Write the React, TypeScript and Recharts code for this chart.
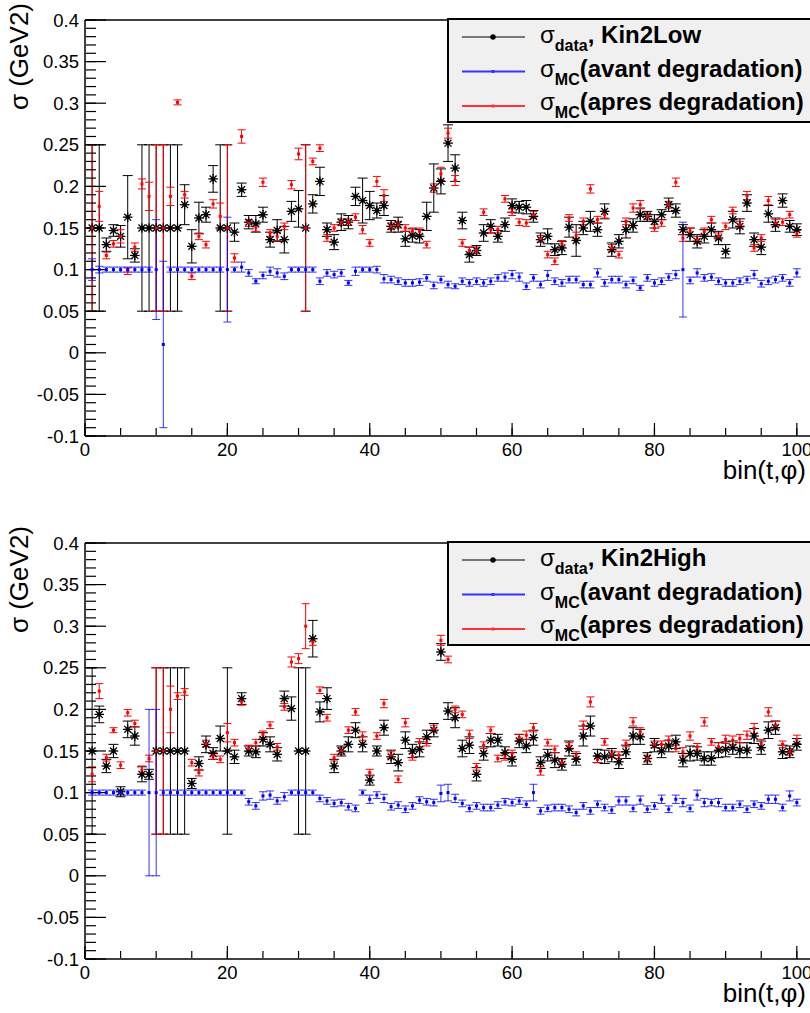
import React from "react";
import {
  ComposedChart,
  Scatter,
  ErrorBar,
  XAxis,
  YAxis,
  ReferenceLine,
} from "recharts";

// sigma per bin(t,phi), bins 1..100

const lowData = [
  0.15, 0.15, 0.13, 0.147, 0.14, 0.163, 0.117, 0.15, 0.15, 0.15,
  0.15, 0.15, 0.15, 0.178, 0.128, 0.162, 0.166, 0.209, 0.15, 0.15,
  0.145, 0.196, 0.157, 0.155, 0.166, 0.136, 0.147, 0.136, 0.17, 0.173,
  0.15, 0.179, 0.206, 0.148, 0.133, 0.157, 0.157, 0.188, 0.183, 0.177,
  0.171, 0.177, 0.152, 0.154, 0.137, 0.141, 0.14, 0.164, 0.198, 0.206,
  0.252, 0.222, 0.159, 0.118, 0.123, 0.144, 0.152, 0.14, 0.154, 0.177,
  0.175, 0.175, 0.164, 0.136, 0.14, 0.124, 0.126, 0.151, 0.135, 0.15,
  0.158, 0.148, 0.17, 0.124, 0.134, 0.148, 0.153, 0.166, 0.164, 0.158,
  0.166, 0.178, 0.171, 0.148, 0.142, 0.134, 0.14, 0.148, 0.138, 0.122,
  0.16, 0.152, 0.18, 0.136, 0.127, 0.167, 0.154, 0.183, 0.152, 0.148,
];
const lowDataErr = [
  0.1, 0.1, 0.008, 0.007, 0.013, 0.05, 0.008, 0.1, 0.1, 0.1,
  0.1, 0.1, 0.1, 0.024, 0.02, 0.019, 0.009, 0.016, 0.1, 0.1,
  0.011, 0.008, 0.008, 0.01, 0.009, 0.009, 0.013, 0.016, 0.012, 0.022,
  0.1, 0.011, 0.017, 0.008, 0.009, 0.01, 0.008, 0.011, 0.027, 0.017,
  0.009, 0.012, 0.007, 0.009, 0.009, 0.008, 0.008, 0.017, 0.029, 0.015,
  0.022, 0.016, 0.01, 0.009, 0.006, 0.01, 0.008, 0.007, 0.008, 0.008,
  0.007, 0.008, 0.007, 0.008, 0.009, 0.007, 0.008, 0.012, 0.019, 0.008,
  0.012, 0.008, 0.009, 0.008, 0.008, 0.01, 0.008, 0.008, 0.006, 0.008,
  0.006, 0.008, 0.008, 0.006, 0.008, 0.008, 0.008, 0.008, 0.008, 0.008,
  0.01, 0.009, 0.01, 0.008, 0.009, 0.01, 0.008, 0.008, 0.007, 0.007,
];
const lowBefore = [
  0.1, 0.1, 0.1, 0.1, 0.1, 0.1, 0.1, 0.1, 0.1, 0.1,
  0.01, 0.1, 0.1, 0.1, 0.1, 0.1, 0.1, 0.1, 0.1, 0.1,
  0.1, 0.103, 0.096, 0.086, 0.093, 0.098, 0.096, 0.092, 0.1, 0.1,
  0.1, 0.1, 0.086, 0.096, 0.094, 0.096, 0.084, 0.098, 0.1, 0.1,
  0.1, 0.089, 0.088, 0.086, 0.084, 0.084, 0.085, 0.09, 0.081, 0.088,
  0.082, 0.08, 0.086, 0.084, 0.086, 0.084, 0.086, 0.09, 0.091, 0.094,
  0.091, 0.08, 0.09, 0.082, 0.093, 0.086, 0.084, 0.088, 0.088, 0.082,
  0.082, 0.096, 0.084, 0.088, 0.088, 0.082, 0.087, 0.078, 0.09, 0.084,
  0.086, 0.091, 0.094, 0.1, 0.087, 0.096, 0.09, 0.091, 0.086, 0.084,
  0.084, 0.086, 0.088, 0.094, 0.083, 0.086, 0.088, 0.09, 0.084, 0.096,
];
const lowBeforeErr = [
  0.013, 0.004, 0.003, 0.003, 0.003, 0.003, 0.003, 0.003, 0.003, 0.06,
  0.1, 0.003, 0.003, 0.003, 0.003, 0.003, 0.003, 0.003, 0.003, 0.063,
  0.003, 0.006, 0.004, 0.003, 0.004, 0.005, 0.005, 0.004, 0.003, 0.003,
  0.003, 0.003, 0.004, 0.004, 0.004, 0.004, 0.003, 0.005, 0.003, 0.003,
  0.004, 0.005, 0.004, 0.004, 0.004, 0.004, 0.004, 0.004, 0.004, 0.004,
  0.004, 0.003, 0.004, 0.004, 0.004, 0.004, 0.004, 0.004, 0.005, 0.005,
  0.005, 0.004, 0.004, 0.004, 0.006, 0.004, 0.004, 0.004, 0.004, 0.004,
  0.004, 0.005, 0.004, 0.004, 0.004, 0.004, 0.004, 0.003, 0.004, 0.004,
  0.004, 0.004, 0.005, 0.057, 0.004, 0.005, 0.004, 0.004, 0.004, 0.004,
  0.004, 0.004, 0.004, 0.005, 0.004, 0.004, 0.004, 0.004, 0.004, 0.005,
];
const lowAfter = [
  0.15, 0.176, 0.117, 0.131, 0.14, 0.098, 0.127, 0.203, 0.188, 0.15,
  0.15, 0.188, 0.301, 0.19, 0.092, 0.14, 0.13, 0.179, 0.164, 0.15,
  0.114, 0.26, 0.156, 0.151, 0.205, 0.144, 0.14, 0.152, 0.202, 0.239,
  0.15, 0.23, 0.246, 0.138, 0.15, 0.157, 0.157, 0.163, 0.148, 0.132,
  0.206, 0.189, 0.152, 0.154, 0.15, 0.146, 0.146, 0.13, 0.198, 0.215,
  0.264, 0.207, 0.132, 0.123, 0.123, 0.169, 0.148, 0.148, 0.185, 0.169,
  0.157, 0.156, 0.166, 0.137, 0.118, 0.11, 0.131, 0.162, 0.141, 0.158,
  0.197, 0.16, 0.166, 0.126, 0.118, 0.158, 0.174, 0.178, 0.164, 0.15,
  0.156, 0.178, 0.205, 0.138, 0.146, 0.136, 0.146, 0.16, 0.14, 0.152,
  0.171, 0.154, 0.189, 0.126, 0.138, 0.183, 0.156, 0.157, 0.166, 0.143,
];
const lowAfterErr = [
  0.1, 0.018, 0.004, 0.004, 0.008, 0.004, 0.005, 0.006, 0.017, 0.1,
  0.1, 0.011, 0.003, 0.004, 0.004, 0.004, 0.004, 0.005, 0.016, 0.1,
  0.005, 0.008, 0.004, 0.005, 0.005, 0.004, 0.005, 0.004, 0.005, 0.007,
  0.1, 0.004, 0.004, 0.004, 0.004, 0.004, 0.004, 0.004, 0.005, 0.004,
  0.006, 0.007, 0.004, 0.004, 0.004, 0.004, 0.004, 0.004, 0.005, 0.008,
  0.006, 0.006, 0.004, 0.004, 0.004, 0.004, 0.004, 0.004, 0.004, 0.004,
  0.004, 0.004, 0.004, 0.004, 0.004, 0.004, 0.004, 0.004, 0.004, 0.004,
  0.005, 0.004, 0.004, 0.004, 0.004, 0.004, 0.005, 0.005, 0.004, 0.004,
  0.004, 0.004, 0.005, 0.004, 0.004, 0.004, 0.004, 0.004, 0.004, 0.004,
  0.004, 0.004, 0.005, 0.004, 0.004, 0.005, 0.004, 0.004, 0.004, 0.004,
];

const highData = [
  0.15, 0.194, 0.132, 0.15, 0.101, 0.176, 0.168, 0.122, 0.122, 0.15,
  0.15, 0.15, 0.15, 0.15, 0.111, 0.135, 0.158, 0.147, 0.165, 0.15,
  0.143, 0.213, 0.15, 0.149, 0.164, 0.158, 0.146, 0.213, 0.201, 0.15,
  0.15, 0.285, 0.197, 0.213, 0.132, 0.15, 0.158, 0.175, 0.158, 0.115,
  0.15, 0.178, 0.143, 0.136, 0.163, 0.15, 0.152, 0.167, 0.175, 0.269,
  0.198, 0.19, 0.153, 0.157, 0.122, 0.147, 0.163, 0.163, 0.148, 0.14,
  0.162, 0.156, 0.166, 0.136, 0.145, 0.139, 0.134, 0.153, 0.14, 0.168,
  0.18, 0.144, 0.143, 0.145, 0.137, 0.149, 0.168, 0.167, 0.141, 0.157,
  0.15, 0.156, 0.161, 0.139, 0.147, 0.147, 0.141, 0.141, 0.151, 0.152,
  0.154, 0.151, 0.151, 0.168, 0.154, 0.175, 0.178, 0.149, 0.149, 0.158,
];
const highDataErr = [
  0.1, 0.01, 0.008, 0.008, 0.006, 0.01, 0.011, 0.009, 0.006, 0.1,
  0.1, 0.1, 0.1, 0.1, 0.006, 0.008, 0.01, 0.007, 0.015, 0.1,
  0.008, 0.007, 0.006, 0.007, 0.008, 0.009, 0.008, 0.009, 0.014, 0.1,
  0.1, 0.022, 0.012, 0.013, 0.008, 0.006, 0.009, 0.009, 0.009, 0.006,
  0.006, 0.009, 0.008, 0.01, 0.01, 0.008, 0.009, 0.008, 0.008, 0.01,
  0.01, 0.012, 0.01, 0.01, 0.008, 0.008, 0.008, 0.007, 0.007, 0.008,
  0.008, 0.008, 0.009, 0.007, 0.007, 0.009, 0.007, 0.009, 0.007, 0.012,
  0.012, 0.008, 0.008, 0.008, 0.008, 0.008, 0.01, 0.009, 0.007, 0.008,
  0.008, 0.007, 0.008, 0.008, 0.009, 0.008, 0.008, 0.008, 0.009, 0.009,
  0.008, 0.009, 0.009, 0.009, 0.008, 0.01, 0.008, 0.008, 0.007, 0.007,
];
const highBefore = [
  0.1, 0.1, 0.1, 0.1, 0.1, 0.1, 0.1, 0.1, 0.1, 0.1,
  0.1, 0.1, 0.1, 0.1, 0.1, 0.1, 0.1, 0.1, 0.1, 0.1,
  0.1, 0.1, 0.089, 0.084, 0.096, 0.097, 0.09, 0.095, 0.1, 0.1,
  0.1, 0.1, 0.093, 0.09, 0.087, 0.088, 0.083, 0.081, 0.1, 0.092,
  0.097, 0.093, 0.083, 0.085, 0.08, 0.084, 0.091, 0.089, 0.088, 0.099,
  0.1, 0.093, 0.087, 0.081, 0.084, 0.082, 0.082, 0.085, 0.089, 0.088,
  0.09, 0.086, 0.1, 0.078, 0.081, 0.082, 0.082, 0.08, 0.076, 0.084,
  0.078, 0.086, 0.082, 0.079, 0.09, 0.09, 0.081, 0.091, 0.08, 0.084,
  0.092, 0.08, 0.092, 0.088, 0.081, 0.097, 0.088, 0.088, 0.088, 0.082,
  0.082, 0.086, 0.08, 0.086, 0.084, 0.092, 0.092, 0.082, 0.096, 0.088,
];
const highBeforeErr = [
  0.003, 0.003, 0.003, 0.003, 0.003, 0.003, 0.003, 0.003, 0.1, 0.1,
  0.003, 0.003, 0.003, 0.003, 0.003, 0.003, 0.003, 0.003, 0.003, 0.003,
  0.003, 0.003, 0.004, 0.004, 0.005, 0.005, 0.004, 0.005, 0.003, 0.003,
  0.003, 0.003, 0.004, 0.004, 0.004, 0.004, 0.004, 0.004, 0.003, 0.005,
  0.004, 0.005, 0.004, 0.004, 0.004, 0.004, 0.004, 0.004, 0.004, 0.01,
  0.01, 0.005, 0.004, 0.004, 0.004, 0.004, 0.004, 0.004, 0.004, 0.004,
  0.004, 0.004, 0.01, 0.004, 0.004, 0.004, 0.004, 0.004, 0.004, 0.004,
  0.004, 0.004, 0.004, 0.004, 0.005, 0.005, 0.004, 0.005, 0.004, 0.004,
  0.005, 0.004, 0.005, 0.005, 0.004, 0.006, 0.005, 0.004, 0.005, 0.004,
  0.004, 0.004, 0.004, 0.004, 0.004, 0.005, 0.005, 0.004, 0.006, 0.004,
];
const highAfter = [
  0.122, 0.222, 0.142, 0.175, 0.133, 0.196, 0.183, 0.127, 0.141, 0.15,
  0.15, 0.2, 0.216, 0.221, 0.136, 0.124, 0.159, 0.144, 0.14, 0.172,
  0.16, 0.209, 0.153, 0.16, 0.17, 0.181, 0.155, 0.203, 0.257, 0.261,
  0.3, 0.281, 0.223, 0.19, 0.142, 0.15, 0.175, 0.197, 0.168, 0.124,
  0.168, 0.207, 0.145, 0.116, 0.184, 0.143, 0.16, 0.16, 0.177, 0.283,
  0.26, 0.2, 0.194, 0.17, 0.131, 0.157, 0.175, 0.141, 0.143, 0.147,
  0.166, 0.169, 0.178, 0.126, 0.16, 0.152, 0.136, 0.156, 0.145, 0.181,
  0.209, 0.14, 0.161, 0.146, 0.145, 0.159, 0.185, 0.173, 0.141, 0.158,
  0.158, 0.163, 0.153, 0.149, 0.168, 0.155, 0.185, 0.161, 0.155, 0.164,
  0.163, 0.165, 0.169, 0.177, 0.159, 0.197, 0.181, 0.158, 0.149, 0.164,
];
const highAfterErr = [
  0.009, 0.009, 0.004, 0.003, 0.004, 0.004, 0.004, 0.005, 0.004, 0.1,
  0.1, 0.028, 0.004, 0.004, 0.004, 0.004, 0.004, 0.004, 0.004, 0.011,
  0.004, 0.004, 0.004, 0.004, 0.004, 0.004, 0.004, 0.004, 0.006, 0.006,
  0.027, 0.004, 0.004, 0.004, 0.004, 0.004, 0.004, 0.004, 0.005, 0.004,
  0.004, 0.005, 0.004, 0.004, 0.005, 0.004, 0.005, 0.004, 0.004, 0.006,
  0.004, 0.004, 0.004, 0.005, 0.004, 0.004, 0.004, 0.004, 0.004, 0.004,
  0.004, 0.005, 0.005, 0.005, 0.004, 0.004, 0.004, 0.004, 0.004, 0.005,
  0.006, 0.004, 0.004, 0.004, 0.004, 0.004, 0.005, 0.005, 0.004, 0.004,
  0.004, 0.005, 0.004, 0.005, 0.005, 0.004, 0.005, 0.004, 0.005, 0.005,
  0.005, 0.005, 0.005, 0.006, 0.005, 0.005, 0.005, 0.004, 0.004, 0.005,
];

const xTicks = [0, 20, 40, 60, 80, 100];
const xMinorTicks = [0, 5, 10, 15, 20, 25, 30, 35, 40, 45, 50, 55, 60, 65, 70, 75, 80, 85, 90, 95, 100, 105];
const yTicks = [-0.1, -0.05, 0, 0.05, 0.1, 0.15, 0.2, 0.25, 0.3, 0.35, 0.4];
const yMinorTicks = [
  -0.1, -0.09, -0.08, -0.07, -0.06, -0.05, -0.04, -0.03, -0.02, -0.01, 0,
  0.01, 0.02, 0.03, 0.04, 0.05, 0.06, 0.07, 0.08, 0.09, 0.1, 0.11, 0.12,
  0.13, 0.14, 0.15, 0.16, 0.17, 0.18, 0.19, 0.2, 0.21, 0.22, 0.23, 0.24,
  0.25, 0.26, 0.27, 0.28, 0.29, 0.3, 0.31, 0.32, 0.33, 0.34, 0.35, 0.36,
  0.37, 0.38, 0.39, 0.4,
];

const FONT = "'Liberation Sans', Arial, Helvetica, sans-serif";
const RED = "#ff0000";
const BLUE = "#0000ff";

const rows = (vals: number[], errs: number[]) =>
  vals.map((y, i) => ({ x: i + 1, y, e: errs[i] }));

const Star = (p: any) => {
  const { cx, cy } = p;
  const r = p.r ?? 4.8;
  const d = r * 0.72;
  return (
    <g stroke="#000" strokeWidth={1.3}>
      <line x1={cx - r} y1={cy} x2={cx + r} y2={cy} />
      <line x1={cx} y1={cy - r} x2={cx} y2={cy + r} />
      <line x1={cx - d} y1={cy - d} x2={cx + d} y2={cy + d} />
      <line x1={cx - d} y1={cy + d} x2={cx + d} y2={cy - d} />
      <circle cx={cx} cy={cy} r={1.5} fill="#000" />
    </g>
  );
};

const Dot = (color: string) => (p: any) => (
  <rect x={p.cx - 1.5} y={p.cy - 1.5} width={3} height={3} fill={color} />
);

// empty tick label: only the inward tick lines are kept
const NoLabel = () => <g />;

function Legend({ kin }: { kin: string }) {
  const entries = [
    { color: "#000", sub: "data", rest: `, ${kin}`, star: true },
    { color: "#3333ff", sub: "MC", rest: "(avant degradation)", star: false },
    { color: "#ff3333", sub: "MC", rest: "(apres degradation)", star: false },
  ];
  return (
    <g>
      <rect x={448} y={19} width={420} height={103} fill="#f0f0f0" stroke="#000" strokeWidth={2} />
      {entries.map((en, i) => {
        const ly = 37 + i * 34.5;
        const by = 43 + i * 33.5;
        return (
          <g key={i}>
            <line x1={462} x2={525} y1={ly} y2={ly} stroke={en.color} strokeWidth={en.star ? 1 : 2} />
            {en.star ? (
              <Star cx={493} cy={ly} r={3} />
            ) : (
              <rect x={491.5} y={ly - 1.5} width={3} height={3} fill={en.color} />
            )}
            <text x={540} y={by} fontSize={24} fontWeight="bold" fontFamily={FONT} fill="#000">
              <tspan fontWeight="normal">σ</tspan>
              <tspan fontSize={16} dy={8}>{en.sub}</tspan>
              <tspan dy={-8}>{en.rest}</tspan>
            </text>
          </g>
        );
      })}
    </g>
  );
}

function Panel({
  top,
  kin,
  data,
  dataErr,
  before,
  beforeErr,
  after,
  afterErr,
}: {
  top: number;
  kin: string;
  data: number[];
  dataErr: number[];
  before: number[];
  beforeErr: number[];
  after: number[];
  afterErr: number[];
}) {
  const W = 900;
  const H = 500;
  return (
    <div style={{ position: "absolute", left: 0, top, width: W, height: H }}>
      <ComposedChart
        width={W}
        height={H}
        margin={{ top: 20, right: 32, bottom: 24, left: 0 }}
        style={{ fontFamily: FONT }}
      >
        <XAxis
          dataKey="x"
          type="number"
          domain={[0, 110]}
          allowDataOverflow
          ticks={xTicks}
          interval={0}
          height={40}
          tickSize={0}
          tickMargin={7}
          tickLine={false}
          axisLine={{ stroke: "#000", strokeWidth: 1.5 }}
          tick={{ fontSize: 18.5, fill: "#000", fontFamily: FONT }}
        />
        <XAxis
          xAxisId="xmaj"
          dataKey="x"
          type="number"
          domain={[0, 110]}
          allowDataOverflow
          ticks={xTicks}
          interval={0}
          mirror
          height={1}
          tick={NoLabel}
          tickSize={13}
          axisLine={false}
          tickLine={{ stroke: "#000", strokeWidth: 1.2 }}
        />
        <XAxis
          xAxisId="xmin"
          dataKey="x"
          type="number"
          domain={[0, 110]}
          allowDataOverflow
          ticks={xMinorTicks}
          interval={0}
          mirror
          height={1}
          tick={NoLabel}
          tickSize={7}
          axisLine={false}
          tickLine={{ stroke: "#000", strokeWidth: 1.2 }}
        />
        <YAxis
          type="number"
          domain={[-0.1, 0.4]}
          allowDataOverflow
          ticks={yTicks}
          interval={0}
          width={85}
          tickSize={0}
          tickMargin={6}
          tickLine={false}
          axisLine={{ stroke: "#000", strokeWidth: 1.5 }}
          tick={{ fontSize: 18.5, fill: "#000", fontFamily: FONT }}
          tickFormatter={(v: number) => String(v)}
        />
        <YAxis
          yAxisId="ymaj"
          type="number"
          domain={[-0.1, 0.4]}
          allowDataOverflow
          ticks={yTicks}
          interval={0}
          mirror
          width={1}
          tick={NoLabel}
          tickSize={21}
          axisLine={false}
          tickLine={{ stroke: "#000", strokeWidth: 1.2 }}
        />
        <YAxis
          yAxisId="ymin"
          type="number"
          domain={[-0.1, 0.4]}
          allowDataOverflow
          ticks={yMinorTicks}
          interval={0}
          mirror
          width={1}
          tick={NoLabel}
          tickSize={10}
          axisLine={false}
          tickLine={{ stroke: "#000", strokeWidth: 1.2 }}
        />
        <ReferenceLine y={0.4} stroke="#000" strokeWidth={1.5} />

        <Scatter data={rows(data, dataErr)} dataKey="y" shape={Star} isAnimationActive={false}>
          <ErrorBar dataKey="e" direction="y" width={5} stroke="#000" strokeWidth={1} isAnimationActive={false} />
        </Scatter>
        <Scatter data={rows(after, afterErr)} dataKey="y" shape={Dot(RED)} isAnimationActive={false}>
          <ErrorBar dataKey="e" direction="y" width={4} stroke={RED} strokeWidth={1} isAnimationActive={false} />
        </Scatter>
        <Scatter data={rows(before, beforeErr)} dataKey="y" shape={Dot(BLUE)} isAnimationActive={false}>
          <ErrorBar
            dataKey="e"
            direction="y"
            width={4}
            stroke={BLUE}
            strokeOpacity={0.8}
            strokeWidth={1}
            isAnimationActive={false}
          />
        </Scatter>
      </ComposedChart>
      <svg
        width={W}
        height={H}
        style={{ position: "absolute", left: 0, top: 0, pointerEvents: "none" }}
      >
        <Legend kin={kin} />
        <text
          transform="translate(28, 3) rotate(-90)"
          textAnchor="end"
          fontSize={26}
          fontFamily={FONT}
          fill="#000"
        >
          σ (GeV2)
        </text>
        <text x={806} y={479} textAnchor="end" fontSize={26} fontFamily={FONT} fill="#000">
          bin(t,φ)
        </text>
      </svg>
    </div>
  );
}

export default function App() {
  return (
    <div
      style={{
        position: "absolute",
        left: 0,
        top: 0,
        width: 810,
        height: 1013,
        overflow: "hidden",
        background: "#fff",
      }}
    >
      <Panel
        top={0}
        kin="Kin2Low"
        data={lowData}
        dataErr={lowDataErr}
        before={lowBefore}
        beforeErr={lowBeforeErr}
        after={lowAfter}
        afterErr={lowAfterErr}
      />
      <Panel
        top={523}
        kin="Kin2High"
        data={highData}
        dataErr={highDataErr}
        before={highBefore}
        beforeErr={highBeforeErr}
        after={highAfter}
        afterErr={highAfterErr}
      />
    </div>
  );
}
